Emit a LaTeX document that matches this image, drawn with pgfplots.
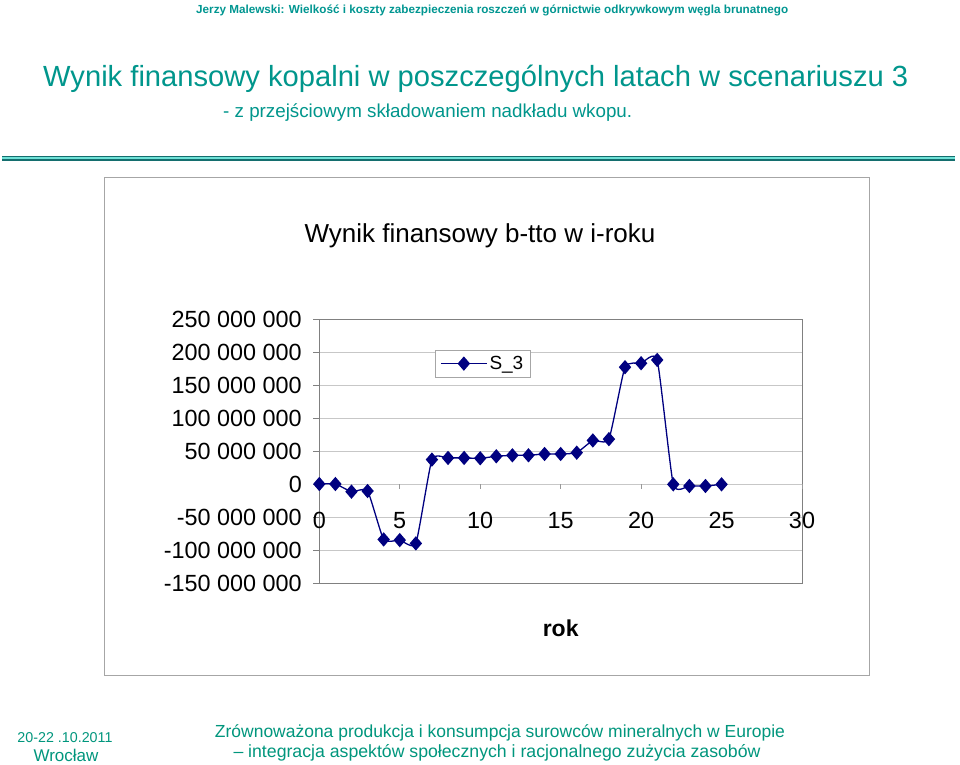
\documentclass[border=0pt]{standalone}
\usepackage{pgfplots}
\pgfplotsset{compat=1.18}
\usepackage{fontspec}
\setmainfont{Liberation Sans}
\definecolor{hdr}{RGB}{0,150,145}
\definecolor{ttl}{RGB}{0,150,140}
\definecolor{ftr}{RGB}{0,150,125}
\definecolor{navy1}{RGB}{0,0,128}
\definecolor{linedark}{RGB}{20,110,110}
\definecolor{linelight}{RGB}{110,225,215}
\pgfplotstableread{
x y
0 0
1 0
2 -11.6
3 -10.6
4 -84
5 -85
6 -90
7 37
8 39.5
9 39.5
10 39
11 42
12 43.5
13 43.5
14 45.5
15 45.5
16 47.5
17 66
18 68
19 177
20 183
21 188
22 -0.5
23 -3
24 -3
25 -0.5
}\datatable
\begin{document}
\begin{tikzpicture}
\useasboundingbox (0pt,0pt) rectangle (960pt,-764pt);
\fill[white] (0pt,0pt) rectangle (960pt,-764pt);
\begin{scope}[x=1pt,y=-1pt]
 % header
 \node[anchor=base west, inner sep=0pt, text=hdr] at (196,13)
   {\resizebox{592pt}{!}{\fontsize{11}{13}\selectfont\bfseries Jerzy Malewski: Wielkość i koszty zabezpieczenia roszczeń w górnictwie odkrywkowym węgla brunatnego}};
 % title
 \node[anchor=base west, inner sep=0pt, text=ttl] at (43,86.7)
   {\resizebox{865pt}{!}{\fontsize{29}{33}\selectfont Wynik finansowy kopalni w poszczególnych latach w scenariuszu 3}};
 \node[anchor=base west, inner sep=0pt, text=ttl] at (223,117.5)
   {\resizebox{409pt}{!}{\fontsize{29}{33}\selectfont - z przejściowym składowaniem nadkładu wkopu.}};
 % double line
 \fill[linedark] (2,155.5) rectangle (955,160.5);
 \fill[linelight] (2,157.2) rectangle (955,158.8);
 % chart box
 \draw[black!35, line width=1pt] (104,177) rectangle (869,675);
 % chart title
 \node[anchor=base, inner sep=0pt] at (480,242)
   {\fontsize{26}{30}\selectfont Wynik finansowy b-tto w i-roku};
 % footer
 \node[anchor=base, inner sep=0pt, text=ftr] at (500,737)
   {\resizebox{570pt}{!}{\fontsize{17}{20}\selectfont Zrównoważona produkcja i konsumpcja surowców mineralnych w Europie}};
 \node[anchor=base, inner sep=0pt, text=ftr] at (497,757)
   {\resizebox{527pt}{!}{\fontsize{17}{20}\selectfont – integracja aspektów społecznych i racjonalnego zużycia zasobów}};
 \node[anchor=base, inner sep=0pt, text=ftr] at (65,742)
   {\resizebox{95pt}{!}{\fontsize{17}{20}\selectfont 20-22 .10.2011}};
 \node[anchor=base, inner sep=0pt, text=ftr] at (66,761)
   {\fontsize{17}{20}\selectfont Wrocław};
\end{scope}
\begin{axis}[
  at={(319.3pt,-583pt)}, anchor=south west,
  scale only axis, width=482.7pt, height=264pt,
  xmin=0, xmax=30, ymin=-150, ymax=250,
  xtick={0,5,10,15,20,25,30},
  xticklabels={0,5,10,15,20,25,30},
  ytick={-150,-100,-50,0,50,100,150,200,250},
  yticklabels={-150 000 000,-100 000 000,-50 000 000,0,50 000 000,100 000 000,150 000 000,200 000 000,250 000 000},
  ymajorgrids, major grid style={draw=black!22, line width=0.8pt},
  axis line style={draw=black!50, line width=1pt},
  tick align=outside, major tick length=6pt, ytick pos=left,
  xtick style={draw=none},
  ytick style={draw=black!50, line width=0.8pt},
  ticklabel style={font=\fontsize{23.4}{27}\selectfont},
  xticklabel style={yshift=80pt},
  yticklabel style={xshift=-8pt},
  xlabel={\bfseries rok},
  xlabel style={font=\fontsize{23}{27}\selectfont, at={(axis description cs:0.5,0)}, anchor=base, yshift=-53pt},
  legend style={at={(0.2397,0.8826)}, anchor=north west, draw=black!35,
     font=\fontsize{19}{22}\selectfont, inner xsep=5pt, inner ysep=4pt, row sep=0pt},
  legend image code/.code={\draw[mark repeat=2,mark phase=2,#1] plot coordinates {(0pt,0pt) (23pt,0pt) (46pt,0pt)};},
  clip=false,
]
\pgfplotsinvokeforeach{0,5,10,15,20,25,30}{\draw[black!40, line width=0.8pt] (axis cs:#1,0) -- ++(0pt,-5pt);}
\addplot[navy1, line width=1.3pt, smooth, tension=0.3, mark=diamond*, mark size=6.2pt, mark options={solid, fill=navy1, xscale=1.15}] table[x=x,y=y] {\datatable};
\addlegendentry{S\_3}
\end{axis}
\end{tikzpicture}
\end{document}
